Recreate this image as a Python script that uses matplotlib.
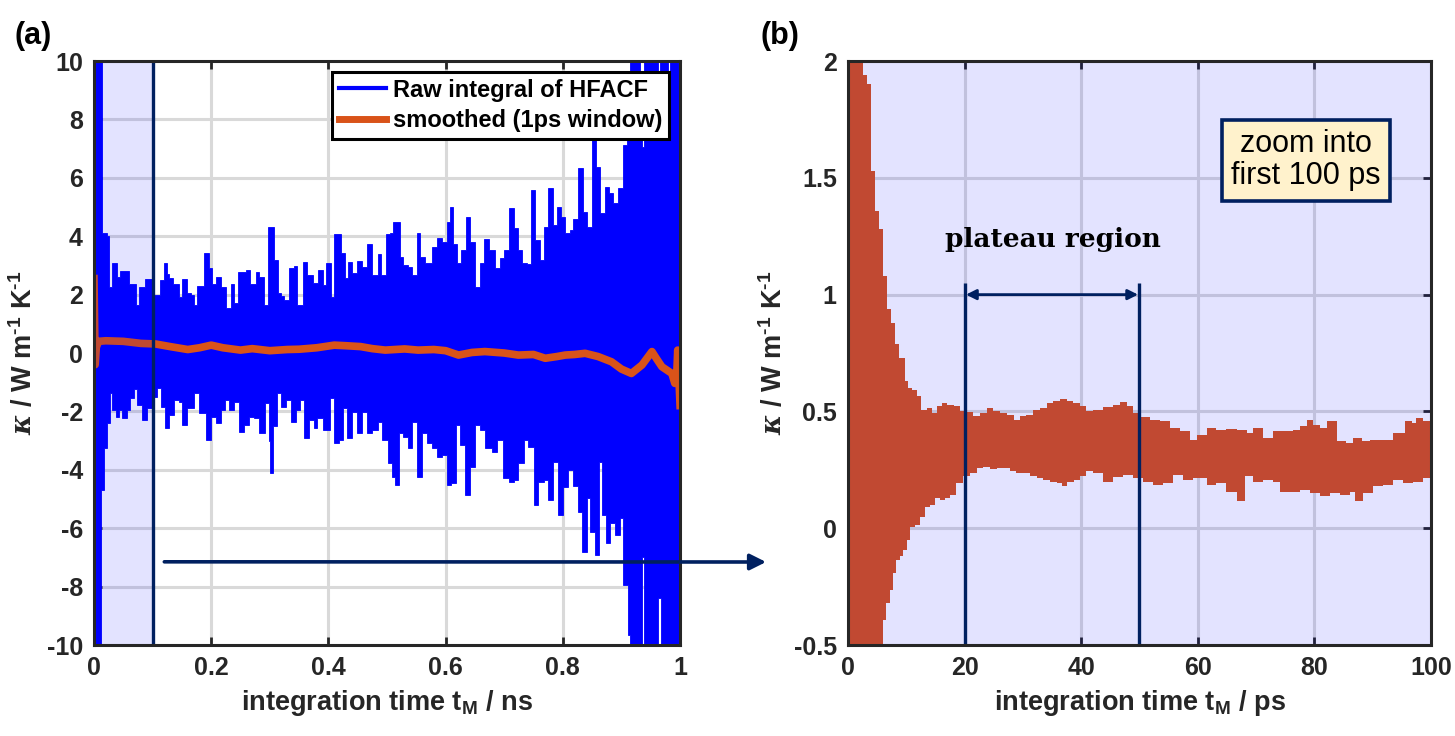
import numpy as np
import matplotlib.pyplot as plt
from matplotlib.lines import Line2D

plt.rcParams['font.family'] = ['Liberation Sans', 'DejaVu Sans']
plt.rcParams['font.weight'] = 'bold'
plt.rcParams['axes.labelweight'] = 'bold'
plt.rcParams['axes.unicode_minus'] = False
plt.rcParams['mathtext.fontset'] = 'custom'
plt.rcParams['mathtext.rm'] = 'Liberation Sans:bold'
plt.rcParams['mathtext.bf'] = 'Liberation Sans:bold'
plt.rcParams['mathtext.it'] = 'DejaVu Serif:italic'

# (a) raw integral of HFACF, read as upper / lower envelope of the noisy trace (ns)
raw_up_t = [0.000, 0.011, 0.013, 0.022, 0.025, 0.031, 0.037, 0.040, 0.044, 0.056, 0.060, 0.066,
            0.071, 0.076, 0.082, 0.087, 0.095, 0.100, 0.108, 0.113, 0.119, 0.124, 0.128, 0.134,
            0.139, 0.145, 0.150, 0.155, 0.159, 0.165, 0.171, 0.176, 0.181, 0.188, 0.196, 0.202,
            0.208, 0.216, 0.225, 0.233, 0.239, 0.245, 0.259, 0.267, 0.276, 0.282, 0.290, 0.297,
            0.302, 0.307, 0.314, 0.319, 0.324, 0.333, 0.341, 0.347, 0.357, 0.364, 0.373, 0.382,
            0.390, 0.396, 0.404, 0.410, 0.414, 0.421, 0.428, 0.433, 0.441, 0.449, 0.458, 0.466,
            0.475, 0.484, 0.489, 0.499, 0.505, 0.511, 0.522, 0.528, 0.536, 0.542, 0.551, 0.556,
            0.565, 0.576, 0.585, 0.593, 0.602, 0.608, 0.613, 0.619, 0.627, 0.634, 0.642, 0.650,
            0.659, 0.666, 0.674, 0.684, 0.693, 0.700, 0.708, 0.716, 0.724, 0.731, 0.738, 0.746,
            0.753, 0.761, 0.768, 0.775, 0.784, 0.790, 0.797, 0.804, 0.812, 0.818, 0.826, 0.835,
            0.842, 0.849, 0.856, 0.863, 0.872, 0.879, 0.886, 0.894, 0.902, 0.909, 0.915, 0.928,
            0.931, 0.935, 0.939, 0.958, 0.962, 0.965, 0.978, 0.980, 0.983, 1.000]
raw_up = [12, 12, 4.1, 4.0, 2.27, 3.07, 3.07, 2.61, 2.82, 2.82, 2.38, 2.38,
          1.64, 2.27, 2.27, 2.52, 2.52, 1.98, 1.98, 2.5, 3.07, 2.70, 2.56, 2.38,
          2.38, 1.93, 2.52, 2.52, 2.04, 2.0, 1.64, 2.29, 2.29, 3.41, 2.90, 2.38,
          2.61, 2.27, 1.53, 2.38, 1.70, 2.78, 2.86, 2.38, 2.78, 2.6, 1.64, 4.30,
          4.30, 3.18, 2.04, 1.95, 1.81, 2.90, 2.98, 1.64, 3.13, 2.67, 2.41, 2.86,
          2.33, 3.07, 1.93, 4.07, 4.07, 3.41, 2.56, 3.13, 2.73, 3.16, 2.95, 3.73,
          2.67, 3.39, 2.67, 4.07, 4.10, 4.50, 3.30, 3.01, 2.96, 2.67, 4.10, 3.30,
          3.07, 3.64, 3.93, 3.81, 4.47, 5.01, 3.75, 3.07, 3.53, 4.67, 3.81, 2.27,
          3.07, 3.90, 3.53, 2.90, 3.24, 3.53, 4.95, 4.27, 3.53, 3.07, 3.05, 5.58,
          3.87, 3.18, 4.33, 5.66, 4.38, 5.01, 4.67, 4.10, 4.21, 4.58, 6.32, 4.84,
          4.33, 7.29, 6.38, 4.78, 5.70, 5.47, 5.13, 5.64, 7.12, 7.75, 12, 12,
          9.0, 7.07, 12, 12, 9.35, 12, 12, 9.12, 12, 12]

raw_lo_t = [0.000, 0.011, 0.0125, 0.017, 0.023, 0.027, 0.031, 0.037, 0.043, 0.048, 0.057, 0.061,
            0.068, 0.074, 0.082, 0.091, 0.100, 0.107, 0.114, 0.121, 0.128, 0.137, 0.145, 0.151,
            0.159, 0.171, 0.179, 0.191, 0.199, 0.208, 0.216, 0.223, 0.230, 0.239, 0.247, 0.256,
            0.265, 0.273, 0.282, 0.291, 0.298, 0.301, 0.306, 0.312, 0.319, 0.327, 0.336, 0.344,
            0.352, 0.358, 0.367, 0.375, 0.381, 0.390, 0.395, 0.403, 0.410, 0.418, 0.425, 0.432,
            0.441, 0.449, 0.458, 0.466, 0.475, 0.484, 0.492, 0.501, 0.509, 0.514, 0.521, 0.528,
            0.535, 0.542, 0.551, 0.559, 0.568, 0.576, 0.585, 0.593, 0.602, 0.610, 0.617, 0.625,
            0.633, 0.642, 0.650, 0.659, 0.667, 0.679, 0.687, 0.698, 0.708, 0.716, 0.724, 0.733,
            0.741, 0.750, 0.758, 0.767, 0.775, 0.784, 0.792, 0.801, 0.809, 0.818, 0.826, 0.833,
            0.841, 0.846, 0.854, 0.861, 0.866, 0.873, 0.881, 0.889, 0.898, 0.903, 0.911, 0.915,
            0.928, 0.935, 0.939, 0.956, 0.963, 0.967, 1.000]
raw_lo = [-12, -12, -4.69, -3.26, -2.41, -1.38, -1.95, -2.20, -1.95, -2.24, -1.95, -1.55,
          -1.24, -1.78, -2.29, -1.89, -1.52, -1.21, -1.84, -2.58, -2.12, -1.61, -1.67, -2.47,
          -1.89, -1.38, -2.07, -2.98, -2.18, -2.41, -1.95, -1.61, -1.95, -1.67, -2.69, -2.47,
          -2.20, -2.24, -2.75, -1.72, -3.0, -4.10, -2.5, -1.38, -1.84, -1.61, -2.35, -1.95,
          -1.61, -2.92, -2.29, -2.58, -2.24, -2.64, -2.64, -1.55, -3.09, -2.98, -1.89, -2.92,
          -2.01, -2.75, -2.01, -2.75, -2.64, -2.35, -2.98, -3.78, -4.23, -4.52, -2.75, -2.87,
          -3.26, -2.35, -4.23, -2.75, -3.09, -3.26, -3.55, -3.49, -4.52, -4.46, -2.47, -3.15,
          -4.86, -3.89, -2.47, -2.64, -3.26, -3.38, -2.98, -4.29, -4.41, -4.35, -3.78, -2.98,
          -3.21, -5.20, -4.41, -4.35, -5.03, -3.72, -5.55, -4.58, -4.01, -4.55, -5.43, -6.80,
          -4.98, -6.12, -6.92, -3.72, -5.55, -6.52, -5.83, -6.23, -5.66, -7.95, -9.66, -12,
          -12, -6.97, -12, -12, -8.40, -12, -12]

# (a) smoothed curve (1 ps window)
smooth_t = [0.000, 0.002, 0.004, 0.008, 0.02, 0.05, 0.08, 0.105, 0.13, 0.16, 0.18, 0.20,
            0.22, 0.25, 0.27, 0.30, 0.33, 0.35, 0.38, 0.41, 0.43, 0.455, 0.475, 0.497,
            0.53, 0.553, 0.58, 0.60, 0.622, 0.645, 0.667, 0.70, 0.724, 0.75, 0.77, 0.79,
            0.804, 0.82, 0.838, 0.86, 0.883, 0.90, 0.917, 0.935, 0.952, 0.96, 0.969, 0.986,
            0.991, 0.994, 0.996, 1.000]
smooth_k = [2.55, -0.40, 0.20, 0.40, 0.42, 0.40, 0.33, 0.31, 0.22, 0.12, 0.18, 0.27,
            0.18, 0.10, 0.15, 0.08, 0.12, 0.13, 0.18, 0.27, 0.25, 0.22, 0.15, 0.10,
            0.14, 0.10, 0.12, 0.08, -0.07, 0.02, 0.05, 0.0, -0.07, -0.05, -0.18, -0.12,
            -0.07, -0.05, -0.01, -0.12, -0.30, -0.55, -0.70, -0.41, 0.05, -0.20, -0.47, -0.70,
            -1.04, -0.9, 0.1, -1.8]

# (b) first 100 ps of the smoothed curve, upper / lower envelope (ps)
zoom_up_t = [0.0, 2.5, 2.6, 3.2, 3.9, 4.6, 5.3, 6.0, 6.7, 7.4, 8.1, 8.8, 9.7, 9.8, 10.3, 10.9,
             11.8, 12.6, 13.5, 14.4, 15.2, 16.1, 16.9, 18.1, 19.2, 20.3, 21.5, 22.6, 23.8, 24.9,
             26.1, 27.2, 28.4, 29.5, 30.6, 31.8, 32.9, 34.1, 35.2, 36.4, 37.5, 38.6, 39.8, 40.9,
             42.1, 43.8, 45.5, 46.6, 47.8, 48.9, 50.1, 51.8, 53.5, 55.2, 56.9, 58.7, 59.8, 61.5,
             63.2, 64.9, 66.7, 68.4, 69.5, 71.2, 72.9, 74.7, 76.4, 77.5, 78.7, 79.8, 81.0, 82.1,
             83.8, 85.5, 86.7, 88.1, 89.5, 91.2, 92.4, 93.5, 94.7, 95.5, 96.7, 97.5, 98.7, 100]
zoom_up = [2.6, 2.6, 1.94, 1.90, 1.53, 1.36, 1.28, 1.08, 0.94, 0.88, 0.79, 0.73, 0.73, 0.63, 0.60, 0.59,
           0.565, 0.507, 0.515, 0.493, 0.522, 0.536, 0.529, 0.522, 0.50, 0.496, 0.479, 0.493, 0.515, 0.50,
           0.493, 0.486, 0.465, 0.479, 0.486, 0.507, 0.515, 0.536, 0.543, 0.553, 0.543, 0.536, 0.522, 0.50,
           0.507, 0.519, 0.529, 0.539, 0.522, 0.493, 0.476, 0.465, 0.458, 0.429, 0.415, 0.379, 0.40, 0.429,
           0.422, 0.425, 0.422, 0.408, 0.429, 0.386, 0.415, 0.415, 0.422, 0.436, 0.465, 0.443, 0.429, 0.458,
           0.372, 0.365, 0.386, 0.372, 0.379, 0.379, 0.379, 0.408, 0.408, 0.458, 0.45, 0.472, 0.458, 0.422]
zoom_lo_t = [0.0, 6.0, 6.05, 6.6, 7.2, 7.8, 8.3, 8.9, 9.5, 10.1, 10.7, 11.5, 12.4, 13.2, 14.1, 14.9,
             15.8, 16.6, 17.5, 18.6, 19.8, 20.9, 22.1, 23.2, 24.3, 25.5, 26.6, 27.8, 28.9, 30.1,
             31.2, 32.4, 33.5, 34.7, 35.8, 36.7, 37.5, 38.7, 39.8, 40.9, 42.1, 43.8, 45.5, 47.2,
             48.9, 50.6, 52.4, 54.1, 55.8, 57.5, 59.2, 61.5, 63.2, 64.9, 66.7, 68.1, 69.5, 71.2,
             72.9, 74.1, 75.8, 77.5, 79.2, 81.0, 82.7, 84.4, 86.1, 87.0, 88.4, 90.1, 91.8, 93.5,
             95.2, 96.9, 98.7, 100]
zoom_lo = [-0.6, -0.6, -0.393, -0.32, -0.264, -0.193, -0.136, -0.121, -0.093, -0.05, 0.007, 0.014, 0.05, 0.093, 0.10, 0.129,
           0.122, 0.129, 0.143, 0.193, 0.222, 0.236, 0.258, 0.262, 0.253, 0.258, 0.258, 0.243, 0.236, 0.236,
           0.222, 0.215, 0.205, 0.196, 0.193, 0.182, 0.196, 0.207, 0.222, 0.243, 0.236, 0.20, 0.219, 0.229,
           0.215, 0.20, 0.186, 0.193, 0.229, 0.207, 0.215, 0.186, 0.193, 0.157, 0.115, 0.222, 0.20, 0.205,
           0.196, 0.157, 0.157, 0.165, 0.15, 0.136, 0.15, 0.143, 0.157, 0.115, 0.15, 0.179, 0.186, 0.207,
           0.193, 0.20, 0.215, 0.215]

plateau = [20, 50]

BLUE = '#0000ff'
ORANGE = '#d95319'
NAVY = '#002060'
TXT = '#262626'
KLABEL = r'$\kappa$ / W m$^{\text{-1}}$ K$^{\text{-1}}$'


def steps(t, y):
    # stair-step vertices (post) of a read envelope
    return np.repeat(t, 2)[1:], np.repeat(y, 2)[:-1]


def band(ax, ut, u, lt, l, **kw):
    ux, uy = steps(ut, u)
    lx, ly = steps(lt, l)
    ax.fill(np.concatenate([ux, lx[::-1]]), np.concatenate([uy, ly[::-1]]), **kw)


def style(ax):
    ax.grid(True, color='#d9d9d9', lw=2.2)
    ax.set_axisbelow(True)
    for s in ax.spines.values():
        s.set_linewidth(2.2)
        s.set_color(TXT)
        s.set_zorder(6)
    ax.tick_params(direction='in', length=6, width=2, top=True, right=True,
                   labelsize=18, colors=TXT, pad=8)


fig = plt.figure(figsize=(14.55, 7.36), dpi=100)
axa = fig.add_axes([0.0646, 0.1236, 0.4028, 0.7935])
axb = fig.add_axes([0.5828, 0.1236, 0.4007, 0.7935])

# ---- panel (a)
style(axa)
band(axa, raw_up_t, raw_up, raw_lo_t, raw_lo, color=BLUE, lw=0.6, zorder=2)
axa.plot(smooth_t, smooth_k, color=ORANGE, lw=5.5, zorder=3)
axa.axvspan(0, 0.1, color=(0, 0, 1), alpha=0.11, lw=0, zorder=4)
axa.axvline(0.1, color=NAVY, lw=2.4, zorder=5)
axa.set_xlim(0, 1)
axa.set_ylim(-10, 10)
axa.set_xticks([0, 0.2, 0.4, 0.6, 0.8, 1])
axa.set_xticklabels(['0', '0.2', '0.4', '0.6', '0.8', '1'])
axa.set_yticks(range(-10, 11, 2))
axa.set_xlabel(r'integration time t$_{\mathbf{M}}$ / ns', fontsize=19.5, color=TXT, labelpad=6)
axa.set_ylabel(KLABEL, fontsize=19.5, color=TXT, labelpad=6)
leg = axa.legend(handles=[Line2D([], [], color=BLUE, lw=3), Line2D([], [], color=ORANGE, lw=5)],
                 labels=['Raw integral of HFACF', 'smoothed (1ps window)'],
                 loc='upper right', fancybox=False, edgecolor='black', framealpha=1,
                 fontsize=17, handlelength=2.0, borderpad=0.3, labelspacing=0.3,
                 handletextpad=0.3, borderaxespad=0.45)
leg.get_frame().set_linewidth(2.2)
leg.set_zorder(7)

# arrow from panel (a) towards panel (b)
axa.annotate('', xy=(0.5265, 1 - 562 / 736), xycoords='figure fraction',
             xytext=(0.12, -7.15), textcoords='data',
             arrowprops=dict(arrowstyle='-|>', color=NAVY, lw=2.6, mutation_scale=24,
                             shrinkA=0, shrinkB=0),
             annotation_clip=False, zorder=8)

# ---- panel (b)
style(axb)
band(axb, zoom_up_t, zoom_up, zoom_lo_t, zoom_lo, color=ORANGE, lw=0, zorder=2)
axb.axvspan(0, 100, color=(0, 0, 1), alpha=0.11, lw=0, zorder=4)
axb.vlines(plateau, -0.5, 1.05, color=NAVY, lw=2.4, zorder=5)
axb.annotate('', xy=(plateau[0], 1.0), xytext=(plateau[1], 1.0),
             arrowprops=dict(arrowstyle='<|-|>', color=NAVY, lw=2, mutation_scale=15,
                             shrinkA=1, shrinkB=1), zorder=5)
axb.text(35.2, 1.237, 'plateau region', family='DejaVu Serif', fontweight='bold',
         fontsize=19, ha='center', va='center', color='black', zorder=6)
axb.text(78.6, 1.575, 'zoom into\nfirst 100 ps', fontweight='normal', fontsize=22,
         ha='center', va='center', color='black', linespacing=1.1, zorder=7,
         bbox=dict(boxstyle='square,pad=0.3', fc='#fff2cc', ec=NAVY, lw=2.6))
axb.set_xlim(0, 100)
axb.set_ylim(-0.5, 2)
axb.set_xticks(range(0, 101, 20))
axb.set_yticks([-0.5, 0, 0.5, 1, 1.5, 2])
axb.set_yticklabels(['-0.5', '0', '0.5', '1', '1.5', '2'])
axb.set_xlabel(r'integration time t$_{\mathbf{M}}$ / ps', fontsize=19.5, color=TXT, labelpad=6)
axb.set_ylabel(KLABEL, fontsize=19.5, color=TXT, labelpad=4)

fig.text(33 / 1455, 1 - 36 / 736, '(a)', fontsize=22, fontweight='bold', ha='center', va='center')
fig.text(780 / 1455, 1 - 36 / 736, '(b)', fontsize=22, fontweight='bold', ha='center', va='center')

fig.savefig('out.png', dpi=100)
